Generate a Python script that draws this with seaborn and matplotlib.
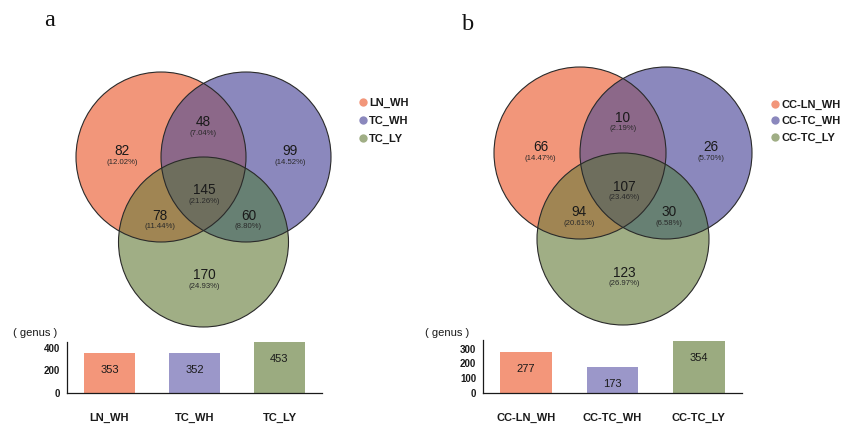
import numpy as np
import matplotlib
matplotlib.use("Agg")
import matplotlib.pyplot as plt
import seaborn as sns
from matplotlib.patches import Circle, Polygon
from matplotlib.lines import Line2D

# ---- data -------------------------------------------------------------
groups_a = ["LN_WH", "TC_WH", "TC_LY"]
# region order: A only, B only, C only, A&B, A&C, B&C, A&B&C
counts_a = [82, 99, 170, 48, 78, 60, 145]
totals_a = [353, 352, 453]

groups_b = ["CC-LN_WH", "CC-TC_WH", "CC-TC_LY"]
counts_b = [66, 26, 123, 10, 94, 30, 107]
totals_b = [277, 173, 354]

set_colors = ["#F2967A", "#8B88BD", "#A0AE85"]
bar_colors = ["#F3967A", "#9B97C9", "#9BAB80"]
# fills for A, B, C, AB, AC, BC, ABC
region_colors = ["#F2967A", "#8B88BD", "#A0AE85",
                 "#8C6889", "#A08553", "#678073", "#6E6E5D"]

# ---- style ------------------------------------------------------------
sns.set_style("white")
plt.rcParams["font.family"] = ["Liberation Sans", "DejaVu Sans"]

W, H = 844, 426
fig = plt.figure(figsize=(W / 100, H / 100), dpi=100)
fig.patch.set_facecolor("white")


def rect(x0, y0, x1, y1):
    return [x0 / W, 1 - y1 / H, (x1 - x0) / W, (y1 - y0) / H]


# circle centres in units of the radius
centres = [(-0.5, 0.0), (0.5, 0.0), (0.0, -1.0)]
# label anchors for A, B, C, AB, AC, BC, ABC
anchors = [(-0.96, 0.0), (1.02, 0.0), (0.01, -1.46), (0.0, 0.34),
           (-0.51, -0.76), (0.53, -0.76), (0.01, -0.46)]


def draw_venn(ax, counts):
    ax.set_xlim(-1.7, 1.7)
    ax.set_ylim(-2.1, 1.7)
    ax.axis("off")
    circ = [Circle(c, 1.0, transform=ax.transData) for c in centres]
    for c, col in zip(centres, region_colors[:3]):
        ax.add_patch(Circle(c, 1.0, facecolor=col, edgecolor="none", zorder=1))
    # pairwise overlaps
    for (i, j), col in zip([(0, 1), (0, 2), (1, 2)], region_colors[3:6]):
        p = Circle(centres[j], 1.0, facecolor=col, edgecolor="none", zorder=2)
        ax.add_patch(p)
        p.set_clip_path(circ[i])
    # triple overlap as a convex polygon
    t = np.linspace(0, 2 * np.pi, 3000)
    pts = []
    cs = np.array(centres)
    for k, c in enumerate(cs):
        xy = np.column_stack([c[0] + np.cos(t), c[1] + np.sin(t)])
        others = [m for m in range(3) if m != k]
        inside = np.all([np.hypot(xy[:, 0] - cs[m, 0], xy[:, 1] - cs[m, 1]) <= 1.0
                         for m in others], axis=0)
        pts.append(xy[inside])
    pts = np.vstack(pts)
    mid = cs.mean(axis=0)
    order = np.argsort(np.arctan2(pts[:, 1] - mid[1], pts[:, 0] - mid[0]))
    ax.add_patch(Polygon(pts[order], closed=True, facecolor=region_colors[6],
                         edgecolor="none", zorder=3))
    for c in centres:
        ax.add_patch(Circle(c, 1.0, facecolor="none", edgecolor="#2a2a2a",
                            lw=0.8, zorder=4))
    total = sum(counts)
    for n, (x, y) in zip(counts, anchors):
        ax.annotate(str(n), (x, y), xytext=(0, 4.3), textcoords="offset points",
                    ha="center", va="center", fontsize=9.8, color="#1a1a1a", zorder=5)
        ax.annotate(f"({100 * n / total:.2f}%)", (x, y), xytext=(0, -3.6),
                    textcoords="offset points", ha="center", va="center",
                    fontsize=5.6, color="#2a2a2a", zorder=5)


def draw_bars(ax, groups, totals, ymax, yticks):
    sns.barplot(x=groups, y=totals, hue=groups, palette=bar_colors, legend=False,
                width=0.6, saturation=1, linewidth=0, ax=ax)
    ax.set_xlim(-0.5, 2.5)
    ax.set_ylim(0, ymax)
    ax.set_yticks(yticks)
    ax.set_xticks([-0.5, 2.5], minor=True)
    for s in ["top", "right"]:
        ax.spines[s].set_visible(False)
    for s in ["left", "bottom"]:
        ax.spines[s].set_color("#1a1a1a")
        ax.spines[s].set_linewidth(0.9)
    ax.tick_params(axis="both", which="both", direction="out", color="#1a1a1a",
                   width=0.8)
    ax.tick_params(axis="y", length=3, pad=2, labelsize=7)
    ax.tick_params(axis="x", which="major", length=3, pad=11, labelsize=8)
    ax.tick_params(axis="x", which="minor", length=3)
    for lab in ax.get_yticklabels() + ax.get_xticklabels():
        lab.set_fontweight("bold")
        lab.set_color("#1a1a1a")
    ax.set_xlabel("")
    ax.set_ylabel("")
    for i, v in enumerate(totals):
        ax.annotate(str(v), (i, v), xytext=(0, -12.3), textcoords="offset points",
                    ha="center", va="center", fontsize=8, color="#1a1a1a")


def draw_legend(groups, x, y, spacing):
    handles = [Line2D([], [], marker="o", ls="", markersize=6, color=c,
                      markeredgewidth=0) for c in set_colors]
    leg = fig.legend(handles, groups, loc="upper left",
                     bbox_to_anchor=(x / W, 1 - y / H), bbox_transform=fig.transFigure,
                     frameon=False, handlelength=0.8, handletextpad=0.15,
                     borderpad=0, borderaxespad=0, labelspacing=spacing,
                     prop={"size": 8, "weight": "bold"})
    for t in leg.get_texts():
        t.set_color("#1a1a1a")
    return leg


# ---- panel a ----------------------------------------------------------
r, ox, oy = 85, 203.5, 157
ax_va = fig.add_axes(rect(ox - 1.7 * r, oy - 1.7 * r, ox + 1.7 * r, oy + 2.1 * r))
draw_venn(ax_va, counts_a)
ax_ba = fig.add_axes(rect(67, 393 - 455 * 45 / 400, 322, 393))
draw_bars(ax_ba, groups_a, totals_a, 455, [0, 200, 400])
draw_legend(groups_a, 358.3, 97.5, 0.73)
fig.text(13 / W, 1 - 333 / H, "( genus )", ha="left", va="center", fontsize=8,
         color="#1a1a1a")
fig.text(50 / W, 1 - 26 / H, "a", ha="center", va="baseline", fontsize=17.5,
         family="Liberation Serif", color="#111111")

# ---- panel b ----------------------------------------------------------
r, ox, oy = 86, 623, 153
ax_vb = fig.add_axes(rect(ox - 1.7 * r, oy - 1.7 * r, ox + 1.7 * r, oy + 2.1 * r))
draw_venn(ax_vb, counts_b)
ax_bb = fig.add_axes(rect(483, 393 - 356 * 44.4 / 300, 742, 393))
draw_bars(ax_bb, groups_b, totals_b, 356, [0, 100, 200, 300])
draw_legend(groups_b, 770.6, 99.8, 0.56)
fig.text(425 / W, 1 - 333 / H, "( genus )", ha="left", va="center", fontsize=8,
         color="#1a1a1a")
fig.text(468 / W, 1 - 30.5 / H, "b", ha="center", va="baseline", fontsize=17.5,
         family="Liberation Serif", color="#111111")

fig.savefig("out.png", dpi=100, facecolor="white")
